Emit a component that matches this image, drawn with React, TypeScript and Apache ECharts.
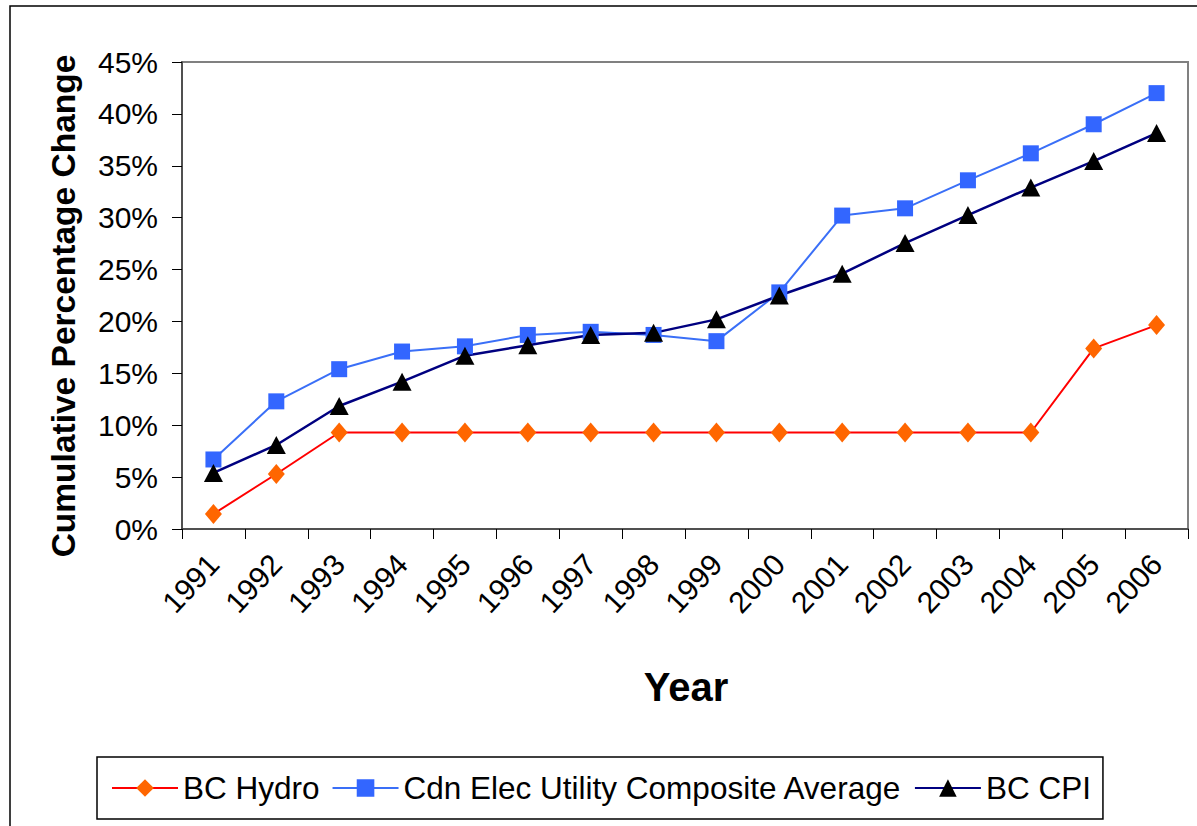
import React, { useEffect, useRef } from "react";
import * as echarts from "echarts";

const years = ["1991", "1992", "1993", "1994", "1995", "1996", "1997", "1998", "1999", "2000", "2001", "2002", "2003", "2004", "2005", "2006"];
const bcHydro = [1.45, 5.3, 9.3, 9.3, 9.3, 9.3, 9.3, 9.3, 9.3, 9.3, 9.3, 9.3, 9.3, 9.3, 17.4, 19.65];
const cdnElecAverage = [6.7, 12.3, 15.4, 17.1, 17.6, 18.7, 19.0, 18.7, 18.1, 22.8, 30.2, 30.9, 33.6, 36.2, 39.0, 42.0];
const bcCpi = [5.4, 8.1, 11.85, 14.2, 16.7, 17.7, 18.7, 18.9, 20.2, 22.5, 24.6, 27.55, 30.25, 32.9, 35.45, 38.15];
const seriesNames = ["BC Hydro", "Cdn Elec Utility Composite Average", "BC CPI"];

const FONT = "'Liberation Sans', Arial, sans-serif";

export default function App() {
  const ref = useRef<HTMLDivElement>(null);

  useEffect(() => {
    if (!ref.current) return;
    const chart = echarts.init(ref.current, undefined, { renderer: "svg" });
    chart.setOption({
      animation: false,
      backgroundColor: "#ffffff",
      textStyle: { fontFamily: FONT },
      grid: {
        left: 182,
        top: 62,
        width: 1006,
        height: 467,
        show: true,
        borderColor: "#808080",
        borderWidth: 2,
        backgroundColor: "#ffffff",
      },
      legend: {
        left: 97,
        top: 757,
        padding: [12, 12, 12, 14],
        borderColor: "#000000",
        borderWidth: 1.5,
        itemWidth: 66,
        itemHeight: 22,
        itemGap: 12,
        data: seriesNames,
        textStyle: { fontSize: 31.5, color: "#000000", fontFamily: FONT, lineHeight: 38 },
      },
      xAxis: {
        type: "category",
        data: years,
        boundaryGap: true,
        axisLine: { lineStyle: { color: "#404040", width: 1.5 } },
        axisTick: { show: true, length: 10, inside: false, lineStyle: { color: "#000000", width: 1 } },
        axisLabel: { rotate: 47, fontSize: 30, color: "#000000", margin: 30, fontFamily: FONT, interval: 0 },
        splitLine: { show: false },
      },
      yAxis: {
        type: "value",
        min: 0,
        max: 45,
        interval: 5,
        axisLine: { show: true, lineStyle: { color: "#404040", width: 1.5 } },
        axisTick: { show: true, length: 10, lineStyle: { color: "#000000", width: 1 } },
        axisLabel: { fontSize: 30, color: "#000000", margin: 24, fontFamily: FONT, formatter: "{value}%" },
        splitLine: { show: false },
      },
      graphic: [
        {
          type: "rect",
          shape: { x: 10, y: 6, width: 1200, height: 840 },
          style: { fill: "none", stroke: "#000000", lineWidth: 1.5 },
          silent: true,
          z: -10,
        },
        {
          type: "text",
          x: 63,
          y: 306,
          rotation: Math.PI / 2,
          style: {
            text: "Cumulative Percentage Change",
            font: `bold 33.5px ${FONT}`,
            fill: "#000000",
            align: "center",
            verticalAlign: "middle",
          },
        },
        {
          type: "text",
          x: 686,
          y: 687,
          style: {
            text: "Year",
            font: `bold 40px ${FONT}`,
            fill: "#000000",
            align: "center",
            verticalAlign: "middle",
          },
        },
      ],
      series: [
        {
          name: seriesNames[0],
          type: "line",
          data: bcHydro,
          symbol: "diamond",
          symbolSize: [17, 20],
          lineStyle: { color: "#ff0000", width: 2 },
          itemStyle: { color: "#ff6600" },
          color: "#ff6600",
        },
        {
          name: seriesNames[1],
          type: "line",
          data: cdnElecAverage,
          symbol: "rect",
          symbolSize: 16,
          lineStyle: { color: "#3a6ff7", width: 2 },
          itemStyle: { color: "#3366ff" },
          color: "#3366ff",
        },
        {
          name: seriesNames[2],
          type: "line",
          data: bcCpi,
          symbol: "triangle",
          symbolSize: [19, 18],
          lineStyle: { color: "#000080", width: 2.5 },
          itemStyle: { color: "#000000" },
          color: "#000000",
        },
      ],
    });
    return () => chart.dispose();
  }, []);

  return (
    <div
      ref={ref}
      style={{ position: "fixed", left: 0, top: 0, width: 1197, height: 826, background: "#ffffff" }}
    />
  );
}
